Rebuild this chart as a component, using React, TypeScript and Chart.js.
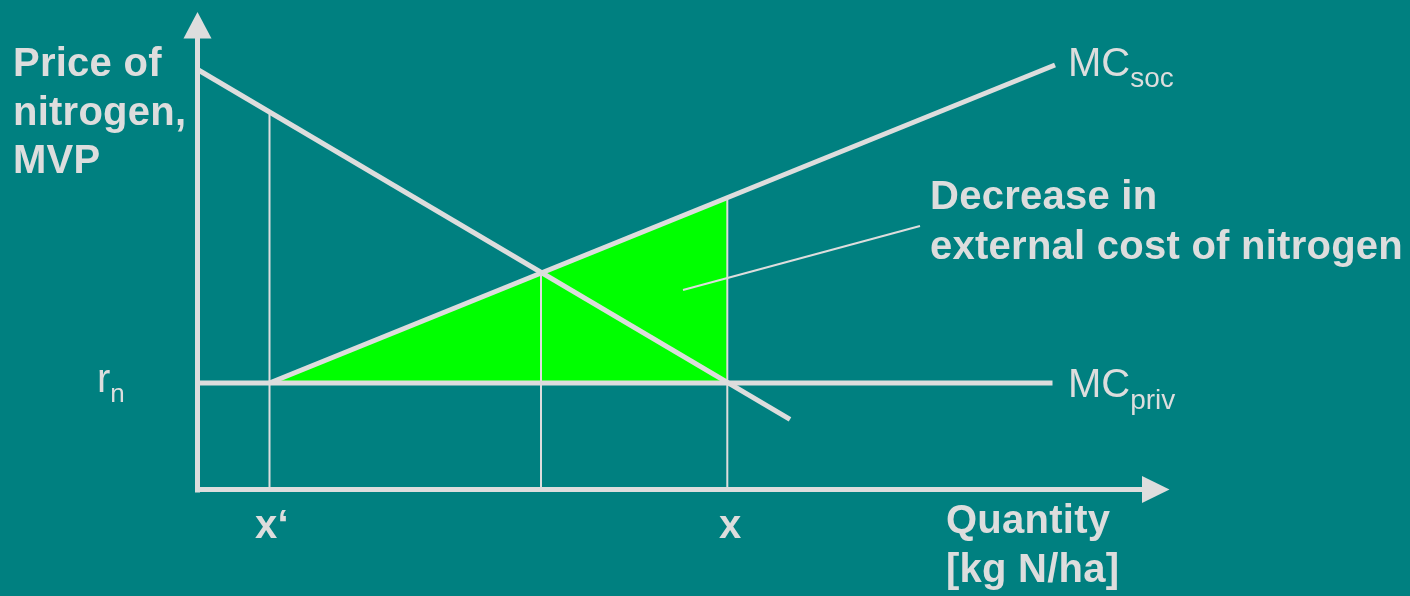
import React, { useEffect, useRef } from "react";
import { Chart, registerables } from "chart.js";

Chart.register(...registerables);

// Conceptual data units (origin at the axes' crossing)
const X_RANGE = [-1.975, 12.125];
const Y_RANGE = [-1.065, 4.895];

const R_N = 1.065; // private marginal cost (price of nitrogen)
const X_PRIME = 0.72; // x'
const X_EQ = 3.435; // social optimum
const X_PRIV = 5.298; // x

const MVP_LINE = [
  { x: 0, y: 4.2 },
  { x: 5.925, y: 0.702 },
];
const MC_SOC_LINE = [
  { x: X_PRIME, y: R_N },
  { x: 8.575, y: 4.245 },
];
const MC_PRIV_LINE = [
  { x: 0, y: R_N },
  { x: 8.55, y: R_N },
];
const AREA_TOP = [
  { x: X_PRIME, y: R_N },
  { x: X_PRIV, y: 2.919 },
];
const DROP_X_PRIME = [
  { x: X_PRIME, y: 0 },
  { x: X_PRIME, y: 3.775 },
];
const DROP_X_EQ = [
  { x: X_EQ, y: 0 },
  { x: X_EQ, y: 2.172 },
];
const DROP_X_PRIV = [
  { x: X_PRIV, y: 0 },
  { x: X_PRIV, y: 2.919 },
];
const POINTER = [
  { x: 4.855, y: 1.995 },
  { x: 7.225, y: 2.635 },
];
const Y_AXIS = [
  { x: 0, y: -0.03 },
  { x: 0, y: 4.52 },
];
const X_AXIS = [
  { x: -0.025, y: 0 },
  { x: 9.45, y: 0 },
];
const Y_TIP = { x: 0, y: 4.775 };
const X_TIP = { x: 9.72, y: 0 };

const LINE = "#dddddd";
const BG = "#008080";
const GREEN = "#00ff00";

const arrowPlugin = {
  id: "arrowHeads",
  afterDatasetsDraw(chart: any) {
    const { ctx, scales } = chart;
    const xs = scales.x;
    const ys = scales.y;
    ctx.save();
    ctx.fillStyle = LINE;
    // Y arrow (pointing up)
    const yx = xs.getPixelForValue(Y_TIP.x);
    const yy = ys.getPixelForValue(Y_TIP.y);
    ctx.beginPath();
    ctx.moveTo(yx, yy);
    ctx.lineTo(yx + 14, yy + 26.5);
    ctx.lineTo(yx - 14, yy + 26.5);
    ctx.closePath();
    ctx.fill();
    // X arrow (pointing right)
    const xx = xs.getPixelForValue(X_TIP.x);
    const xy = ys.getPixelForValue(X_TIP.y);
    ctx.beginPath();
    ctx.moveTo(xx, xy);
    ctx.lineTo(xx - 27.5, xy - 13.5);
    ctx.lineTo(xx - 27.5, xy + 13.5);
    ctx.closePath();
    ctx.fill();
    ctx.restore();
  },
};

function seg(data: any[], width: number, extra: any = {}) {
  return {
    data,
    borderColor: LINE,
    backgroundColor: LINE,
    borderWidth: width,
    pointRadius: 0,
    showLine: true,
    fill: false,
    borderCapStyle: "butt",
    order: 0,
    ...extra,
  };
}

const labelBase: React.CSSProperties = {
  position: "absolute",
  color: LINE,
  fontFamily: '"Liberation Sans", Arial, sans-serif',
  fontSize: 40,
  whiteSpace: "nowrap",
  margin: 0,
};

const bold: React.CSSProperties = { fontWeight: "bold", letterSpacing: "0.25px" };

export default function App() {
  const ref = useRef<HTMLCanvasElement>(null);

  useEffect(() => {
    if (!ref.current) return;
    const chart = new Chart(ref.current, {
      type: "scatter",
      data: {
        datasets: [
          seg(MVP_LINE, 5),
          seg(MC_SOC_LINE, 5),
          seg(MC_PRIV_LINE, 5),
          seg(Y_AXIS, 5),
          seg(X_AXIS, 5),
          seg(DROP_X_PRIME, 2),
          seg(DROP_X_EQ, 2),
          seg(DROP_X_PRIV, 2),
          seg(POINTER, 2),
          {
            data: AREA_TOP,
            borderWidth: 0,
            borderColor: GREEN,
            backgroundColor: GREEN,
            pointRadius: 0,
            showLine: true,
            fill: { value: R_N },
            order: 5,
          },
        ] as any,
      },
      options: {
        animation: false,
        responsive: false,
        devicePixelRatio: 1,
        layout: { padding: 0 },
        plugins: {
          legend: { display: false },
          tooltip: { enabled: false },
        },
        events: [],
        scales: {
          x: { type: "linear", min: X_RANGE[0], max: X_RANGE[1], display: false },
          y: { type: "linear", min: Y_RANGE[0], max: Y_RANGE[1], display: false },
        },
      } as any,
      plugins: [arrowPlugin],
    });
    return () => chart.destroy();
  }, []);

  return (
    <div
      style={{
        position: "absolute",
        left: 0,
        top: 0,
        width: 1410,
        height: 596,
        background: BG,
        overflow: "hidden",
      }}
    >
      <canvas ref={ref} width={1410} height={596} style={{ position: "absolute", left: 0, top: 0 }} />
      <div style={{ ...labelBase, ...bold, left: 13, top: 38, lineHeight: "48.5px" }}>
        Price of
        <br />
        nitrogen,
        <br />
        MVP
      </div>
      <div style={{ ...labelBase, ...bold, left: 930, top: 170, lineHeight: "50px" }}>
        Decrease in
        <br />
        external cost of nitrogen
      </div>
      <div style={{ ...labelBase, ...bold, left: 946, top: 494.5, lineHeight: "49px" }}>
        Quantity
        <br />
        [kg N/ha]
      </div>
      <div style={{ ...labelBase, ...bold, left: 255, top: 504, lineHeight: "40px" }}>x‘</div>
      <div style={{ ...labelBase, ...bold, left: 719, top: 504, lineHeight: "40px" }}>x</div>
      <div style={{ ...labelBase, left: 1068, top: 42, lineHeight: "40px" }}>
        MC
        <span style={{ fontSize: 28, position: "relative", top: 11 }}>soc</span>
      </div>
      <div style={{ ...labelBase, left: 1068, top: 363, lineHeight: "40px" }}>
        MC
        <span style={{ fontSize: 28, position: "relative", top: 12 }}>priv</span>
      </div>
      <div style={{ ...labelBase, left: 97, top: 358, lineHeight: "40px" }}>
        r<span style={{ fontSize: 26, position: "relative", top: 10 }}>n</span>
      </div>
    </div>
  );
}
